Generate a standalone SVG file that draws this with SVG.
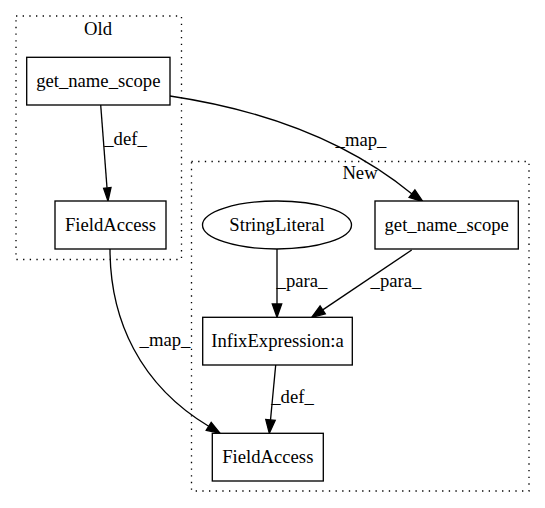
<svg xmlns="http://www.w3.org/2000/svg" width="545" height="508" viewBox="0 0 545 508">
<style>
text{font-family:"Liberation Serif","Times New Roman",serif;font-size:18.67px;fill:#000;text-anchor:middle}
.cl{fill:none;stroke:#000;stroke-width:1.33;stroke-dasharray:1.33,5.33}
.nd{fill:#fff;stroke:#000;stroke-width:1.33}
.ed{fill:none;stroke:#000;stroke-width:1.33}
.ah{fill:#000;stroke:#000;stroke-width:1.33}
</style>
<rect width="545" height="508" fill="#fff"/>
<g id="cluster_old">
<rect class="cl" x="16" y="16" width="165.5" height="243.5"/>
<text x="98" y="35">Old</text>
</g>
<g id="cluster_new">
<rect class="cl" x="191.5" y="161.5" width="337.5" height="329.5"/>
<text x="360" y="179">New</text>
</g>
<g id="connectors">
<path class="ed" d="M100.7,105 L107,187.7"/>
<polygon class="ah" points="103.6,188.2 108,201 111,187.4"/>
<text x="125.5" y="145">_def_</text>
<path class="ed" d="M170,96 C250,108 340,135 412,194"/>
<polygon class="ah" points="409.1,197.4 423,201.7 414.9,189.8"/>
<text x="361" y="146">_map_</text>
<path class="ed" d="M277,249 L277,304"/>
<polygon class="ah" points="272.3,304 277,317.3 281.7,304"/>
<text x="302" y="287">_para_</text>
<path class="ed" d="M411.7,250 L322.7,309.9"/>
<polygon class="ah" points="320.1,306 311.7,317.3 325.3,313.8"/>
<text x="396" y="287">_para_</text>
<path class="ed" d="M275.7,365 L270.5,420"/>
<polygon class="ah" points="265.8,419.6 269.3,433.3 275.2,420.4"/>
<text x="292.5" y="403">_def_</text>
<path class="ed" d="M110,249 C110,320 140,385 208.7,426.3"/>
<polygon class="ah" points="206.2,430.3 220,433.3 211.2,422.3"/>
<text x="165" y="346">_map_</text>
</g>
<g id="old_get_name_scope">
<rect class="nd" x="26.7" y="57.3" width="143.3" height="47.7"/>
<text x="98.3" y="87">get_name_scope</text>
</g>
<g id="old_FieldAccess">
<rect class="nd" x="55" y="201" width="111" height="48"/>
<text x="110.5" y="231">FieldAccess</text>
</g>
<g id="StringLiteral">
<ellipse class="nd" cx="277" cy="225" rx="74.5" ry="24"/>
<text x="277" y="231">StringLiteral</text>
</g>
<g id="new_get_name_scope">
<rect class="nd" x="375" y="201" width="143.3" height="48"/>
<text x="446.7" y="231">get_name_scope</text>
</g>
<g id="InfixExpression">
<rect class="nd" x="202.7" y="317.3" width="149.6" height="47.7"/>
<text x="277.5" y="347">InfixExpression:a</text>
</g>
<g id="new_FieldAccess">
<rect class="nd" x="212.3" y="433.3" width="111" height="47.7"/>
<text x="267.8" y="463">FieldAccess</text>
</g>
</svg>
